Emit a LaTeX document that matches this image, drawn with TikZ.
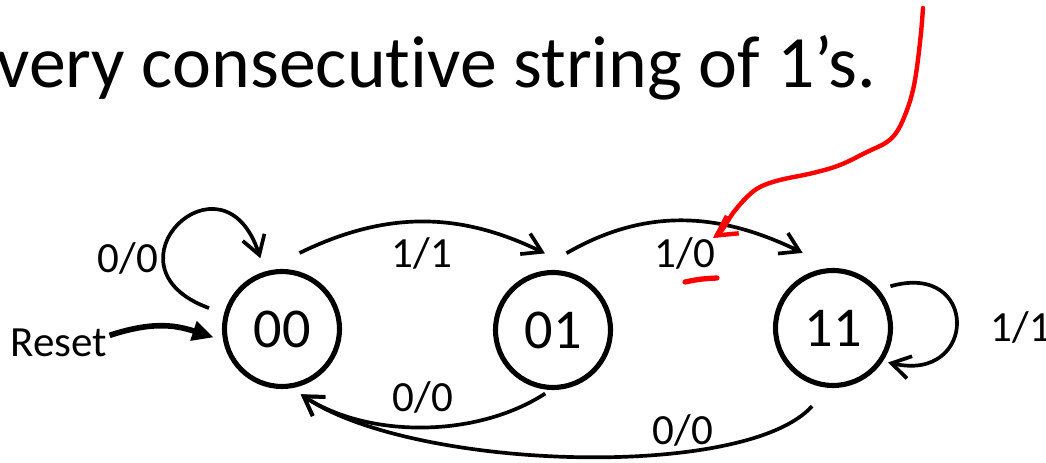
\documentclass[tikz,border=0pt]{standalone}
\usepackage{fontspec}
\setmainfont{Carlito}[Ligatures={TeX,NoCommon}]
\usetikzlibrary{arrows.meta,calc}

\begin{document}
\begin{tikzpicture}[x=0.02cm,y=0.02cm]
  \tikzset{state/.style = {shape=circle,draw,line width=2.9pt,minimum size=2.3cm,inner sep=0pt,font=\fontsize{32}{38}\selectfont}}
  \tikzset{lbl/.style = {anchor=base,inner sep=0pt,font=\fontsize{24.5}{29}\selectfont}}
  \tikzset{edge/.style = {line width=2.1pt,-tipB}}
  \tikzset{%
  tipB/.tip={Straight Barb[length=10.5pt,width=13pt]},
  tipR/.tip={Straight Barb[length=11pt,width=12pt]},
}
  \useasboundingbox (0,0) rectangle (1046,463);
  \clip (0,0) rectangle (1046,463);

  % slide text above the machine
  \node[anchor=base west,inner sep=0pt,font=\fontsize{42}{50}\selectfont] (title) at (-4,375) {very consecutive string of 1’s.};
  \node[anchor=base west,inner sep=0pt,font=\fontsize{42}{50}\selectfont] (prev) at (450,478) {p};

	\node[state] (s00) at (282,134) {00};
	\node[state] (s01) at (553,133) {01};
	\node[state] (s11) at (833,135) {11};
	\node[lbl] (reset) at (59,106) {Reset};

	\node[lbl] (l00) at (128,190) {0/0};
	\node[lbl] (l0001) at (422,195) {1/1};
	\node[lbl] (l0111) at (685,195) {1/0};
	\node[lbl] (l0100) at (423,51) {0/0};
	\node[lbl] (l1100) at (683,18) {0/0};
	\node[lbl] (l11) at (1021,121) {1/1};

    % transitions
    \path[edge] ($(s00)+(164:76)$) edge [out=160,in=108,looseness=4.3] ($(s00)+(107:74)$);
    \path[edge] ($(s00)+(77:78)$) edge [out=26,in=154] ($(s01)+(96:77)$);
    \path[edge] ($(s01)+(80:78)$) edge [out=30,in=154] ($(s11)+(112:81)$);
    \path[edge] ($(s11)+(36:71)$) edge [out=16,in=-13,looseness=3.1] ($(s11)+(-32:65)$);
    \path[edge] ($(s01)+(263:64)$) edge [out=-147,in=-33,looseness=0.85] ($(s00)+(-74:68)$);
    \path[edge] ($(s11)+(255:81)$) edge [out=228,in=-34,out looseness=0.5,in looseness=0.68] ($(s00)+(-74:68)$);

    \path[line width=3.2pt,-{Triangle[length=12pt,width=11pt]}] ($(reset.east)+(2,8)$) edge [out=18,in=162,looseness=1.05] ($(s00)+(187:69)$);

    % red pen marks
    \draw[red,line width=2.5pt,line cap=round,line join=round,-tipR] plot[smooth,tension=0.6] coordinates {(923,455) (921,430) (917,396) (913,373) (907,353) (898,333) (887,321) (867,311) (840,298) (813,290) (780,283) (760,276) (747,266) (733,250) (722,233) (713,225)};
    \draw[red,line width=3pt,line cap=round] (685,181) .. controls (700,184) .. (717,185);

\end{tikzpicture}
\end{document}
